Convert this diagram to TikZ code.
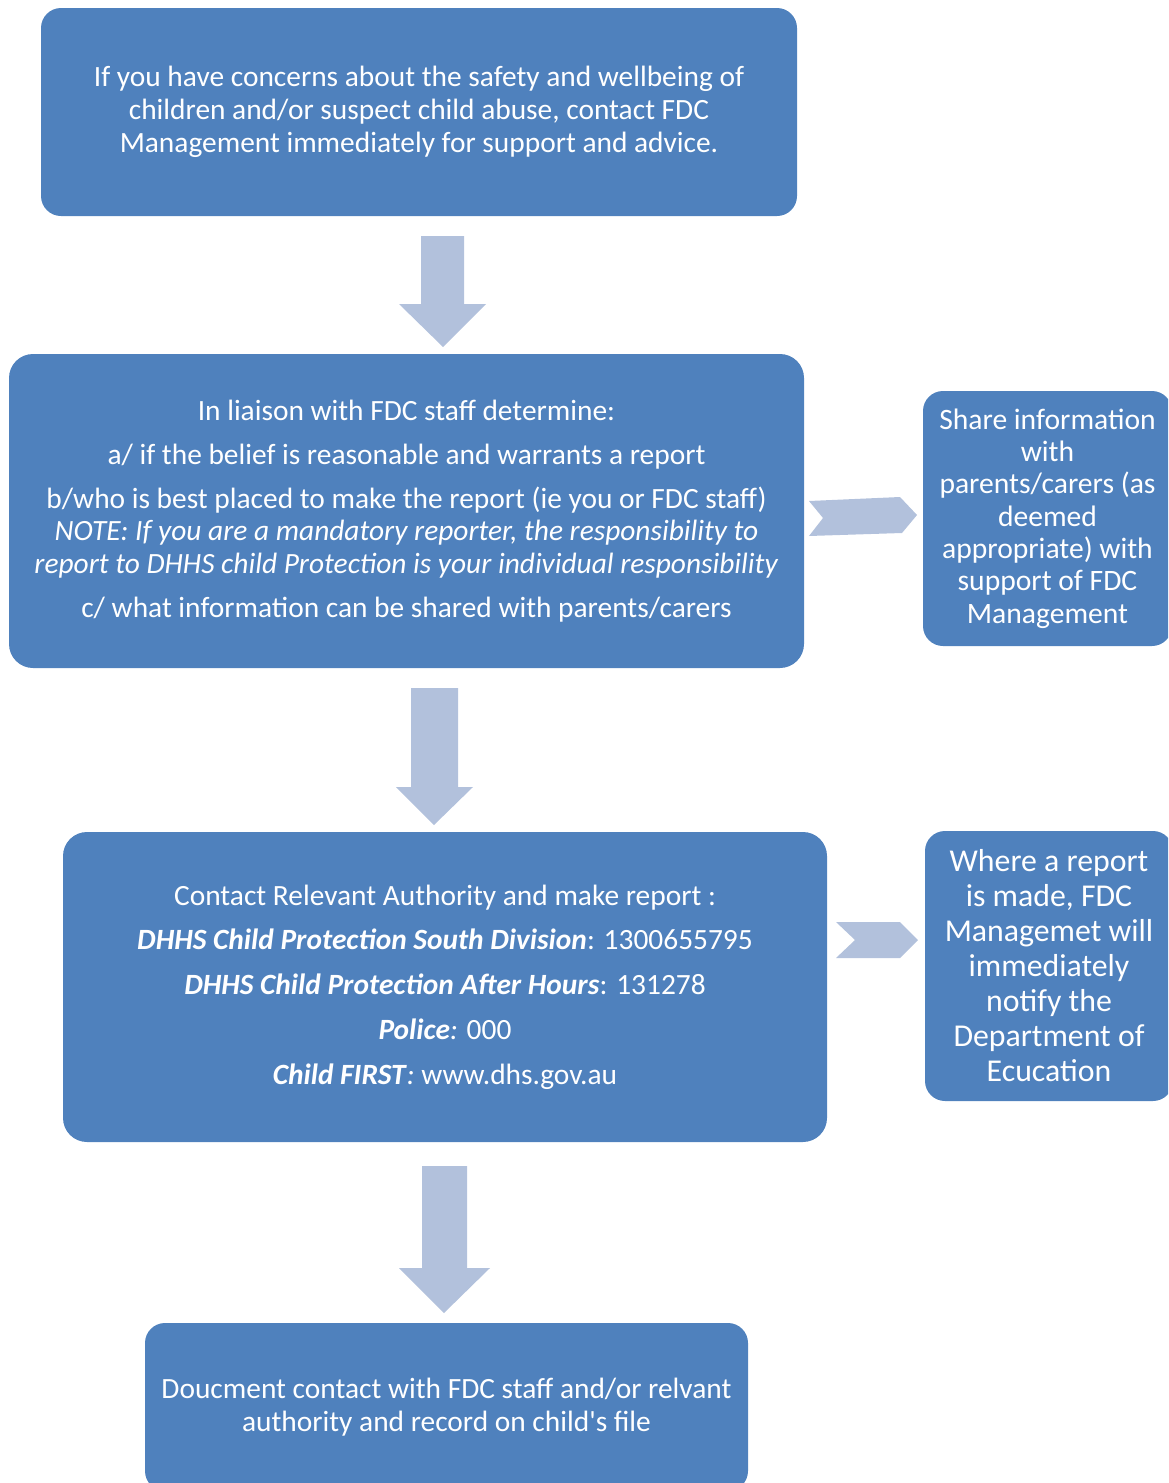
\documentclass[tikz,border=0pt]{standalone}
\usepackage{fontspec}
\setmainfont{Carlito}[Ligatures=TeXOff]
\usepackage{xcolor}
\definecolor{stepBlue}{HTML}{4F81BD}
\definecolor{arrowBlue}{HTML}{B2C1DC}
\usepackage{tikz}
\usetikzlibrary{positioning,calc}
\tikzset{%
  flowBox/.style={%
    rectangle,
    rounded corners=12pt,
    fill=stepBlue,
    text=white,
    inner sep=0pt,
    align=center,
    font=\fontsize{14.7}{16.4}\selectfont
  },
  sideBox/.style={%
    flowBox,
    rounded corners=10pt
  },
  blockArrow/.style={%
    fill=arrowBlue
  }
}

\begin{document}
\begin{tikzpicture}[x=0.5pt,y=-0.5pt]
  \clip (0,0) rectangle (1168,1483);
  \node[flowBox, rounded corners=10pt, minimum width=378pt, minimum height=104pt] (concern) at (419,112)
    {If you have concerns about the safety and wellbeing of\\
     children and/or suspect child abuse, contact FDC\\
     Management immediately for support and advice.};
  \node[flowBox, minimum width=397.5pt, minimum height=157pt] (liaison) at (406.5,511)
    {In liaison with FDC staff determine:\\[5.6pt]
     a/ if the belief is reasonable and warrants a report\\[5.6pt]
     b/who is best placed to make the report (ie you or FDC staff)\\
     \textit{NOTE: If you are a mandatory reporter, the responsibility to}\\
     \textit{report to DHHS child Protection is your individual responsibility}\\[5.6pt]
     c/ what information can be shared with parents/carers};
  \node[sideBox, minimum width=124.5pt, minimum height=127.5pt,
        font=\fontsize{14.8}{16.15}\selectfont] (share) at (1047.5,518.5)
    {Share information\\ with\\ parents/carers (as\\ deemed\\ appropriate) with\\
     support of FDC\\ Management};
  \node[flowBox, minimum width=382pt, minimum height=155pt] (contact) at (445,987)
    {Contact Relevant Authority and make report :\\[6pt]
     \textbf{\textit{DHHS Child Protection South Division}}: 1300655795\\[6pt]
     \textbf{\textit{DHHS Child Protection After Hours}}: 131278\\[6pt]
     \textbf{\textit{Police}}\textit{:} 000\\[6pt]
     \textbf{\textit{Child FIRST}}\textit{:} www.dhs.gov.au};
  \node[sideBox, minimum width=124pt, minimum height=135pt,
        font=\fontsize{15.9}{17.5}\selectfont] (notify) at (1049,966)
    {Where a report\\ is made, FDC\\ Managemet will\\ immediately\\ notify the\\
     Department of\\ Ecucation};
  \node[flowBox, rounded corners=10pt, minimum width=301.5pt, minimum height=84pt] (record) at (446.5,1407)
    {Doucment contact with FDC staff and/or relvant\\
     authority and record on child's file};

  \fill[blockArrow] (421,236) -- (464,236) -- (464,304) -- (486,304) -- (443,347)
    -- (399,304) -- (421,304) -- cycle;
  \fill[blockArrow] (411,688) -- (458,688) -- (458,787) -- (473,787) -- (434,825)
    -- (396,787) -- (411,787) -- cycle;
  \fill[blockArrow] (422,1166) -- (467,1166) -- (467,1268) -- (490,1268) -- (444,1313)
    -- (399,1268) -- (422,1268) -- cycle;
  \fill[blockArrow] (809,501) -- (900,497) -- (917,515) -- (902,533) -- (809,536)
    -- (823,518) -- cycle;
  \fill[blockArrow] (836,922) -- (900,922) -- (918,940) -- (900,958) -- (836,958)
    -- (855,940) -- cycle;
\end{tikzpicture}
\end{document}
